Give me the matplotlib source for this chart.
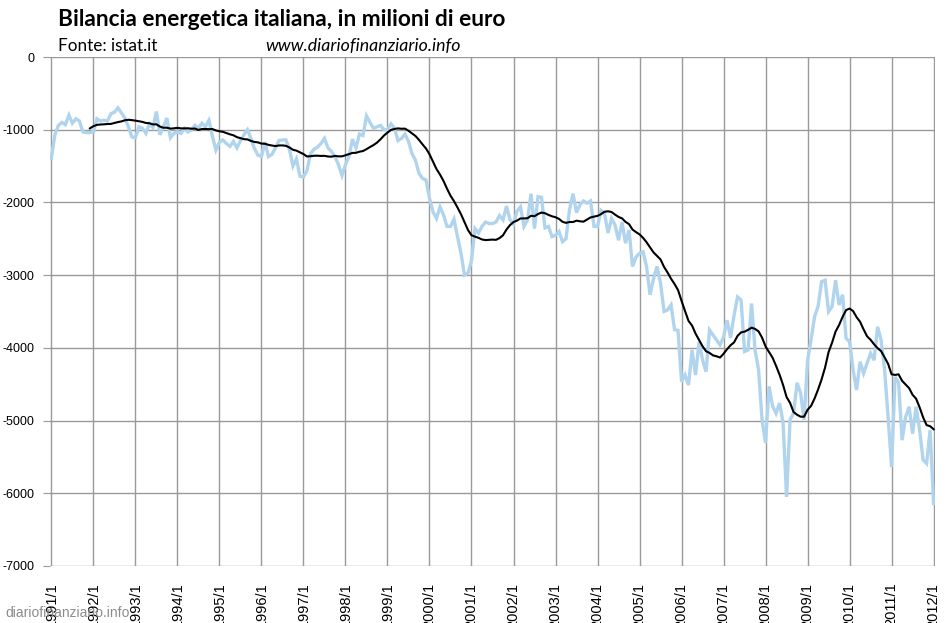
import numpy as np
import pandas as pd
import matplotlib
matplotlib.use("Agg")
import matplotlib.pyplot as plt

# saldo mensile bilancia energetica (milioni di euro), gen..dic
y1991 = [-1390, -1070, -940, -900, -930, -800, -910, -850, -880, -1030, -1040, -1040]
y1992 = [-1030, -850, -880, -870, -880, -780, -760, -700, -770, -840, -960, -1100]
y1993 = [-1110, -960, -980, -1050, -920, -970, -750, -1070, -960, -840, -1110, -1050]
y1994 = [-1030, -1050, -980, -1030, -1000, -940, -980, -910, -960, -870, -1090, -1280]
y1995 = [-1170, -1140, -1190, -1230, -1160, -1250, -1150, -1070, -1000, -1120, -1260, -1350]
y1996 = [-1370, -1170, -1370, -1340, -1250, -1150, -1140, -1140, -1270, -1500, -1400, -1640]
y1997 = [-1650, -1560, -1330, -1270, -1240, -1190, -1120, -1250, -1300, -1370, -1480, -1630]
y1998 = [-1480, -1370, -1130, -1250, -1060, -1080, -810, -900, -980, -960, -940, -1000]
y1999 = [-1000, -920, -980, -1150, -1120, -1060, -1160, -1330, -1420, -1600, -1670, -1690]
y2000 = [-1940, -2130, -2220, -2060, -2170, -2330, -2330, -2230, -2470, -2700, -3000, -2975]
y2001 = [-2800, -2360, -2420, -2330, -2270, -2290, -2290, -2270, -2180, -2240, -2050, -2240]
y2002 = [-2300, -2120, -2060, -2330, -2240, -1880, -2360, -1920, -1930, -2350, -2330, -2470]
y2003 = [-2450, -2400, -2540, -2500, -2100, -1880, -2140, -2030, -1980, -2010, -1980, -2330]
y2004 = [-2330, -2110, -2150, -2420, -2220, -2310, -2520, -2270, -2560, -2380, -2880, -2750]
y2005 = [-2700, -2680, -2880, -3270, -3050, -2880, -3110, -3500, -3480, -3410, -3750, -3760]
y2006 = [-4465, -4373, -4511, -4030, -4373, -3915, -4167, -4327, -3755, -3823, -3892, -3961]
y2007 = [-3850, -3620, -3860, -3550, -3300, -3340, -4050, -4030, -3390, -4030, -4300, -4990]
y2008 = [-5310, -4530, -4800, -4900, -4760, -5030, -6050, -4990, -4900, -4480, -4620, -4990]
y2009 = [-4170, -3890, -3570, -3430, -3090, -3070, -3500, -3430, -3070, -3410, -3270, -3870]
y2010 = [-3915, -4300, -4580, -4190, -4350, -4210, -4075, -4170, -3710, -3890, -4300, -4950]
y2011 = [-5640, -4400, -4480, -5270, -4950, -4810, -5180, -4810, -5130, -5540, -5590, -5130]
y2012 = [-6140]

years = list(range(1991, 2013))
tick_labels = [f"{y}/1" for y in years]

saldo = pd.Series(y1991 + y1992 + y1993 + y1994 + y1995 + y1996 + y1997 + y1998 +
                  y1999 + y2000 + y2001 + y2002 + y2003 + y2004 + y2005 + y2006 +
                  y2007 + y2008 + y2009 + y2010 + y2011 + y2012)
# media mobile 12 mesi (trendline del grafico originale)
media = saldo.rolling(12).mean()
x = np.arange(len(saldo))

fig = plt.figure(figsize=(9.47, 6.23), dpi=100)
ax = fig.add_axes([50 / 947, 1 - 566 / 623, 885 / 947, 509 / 623])

ax.plot(x, saldo, color="#b0d4ee", lw=2.4, solid_joinstyle="miter", zorder=2)
ax.plot(x, media, color="black", lw=1.5, zorder=3)

ax.set_xlim(-0.4, 252.4)
ax.set_ylim(-7000, 0)
ax.set_xticks(np.arange(0, 253, 12))
ax.set_xticklabels(tick_labels, rotation=90, va="top", ha="center",
                   family="Liberation Sans", fontsize=10.5)
ax.set_yticks(np.arange(-7000, 1, 1000))
ax.set_yticklabels([str(v) for v in range(-7000, 1, 1000)],
                   family="Liberation Sans", fontsize=9)
ax.tick_params(axis="x", length=0, pad=12)
ax.tick_params(axis="y", length=5, color="#999999", pad=6)
ax.grid(True, color="#999999", lw=1)
ax.set_axisbelow(True)
for s in ax.spines.values():
    s.set_visible(False)

fig.text(58 / 947, 1 - 20 / 623, "Bilancia energetica italiana, in milioni di euro",
         family="Lato", weight="bold", fontsize=16.3, va="center")
fig.text(58 / 947, 1 - 46 / 623, "Fonte: istat.it", family="Lato", fontsize=12.3, va="center")
fig.text(265 / 947, 1 - 46 / 623, "www.diariofinanziario.info", family="Lato",
         style="italic", fontsize=12.8, va="center")
fig.text(5 / 947, 1 - 613 / 623, "diariofinanziario.info",
         family=["Liberation Sans Narrow", "Liberation Sans"], color="#8c8c8c",
         fontsize=10, va="center", zorder=5)

fig.savefig("out.png", dpi=100)
